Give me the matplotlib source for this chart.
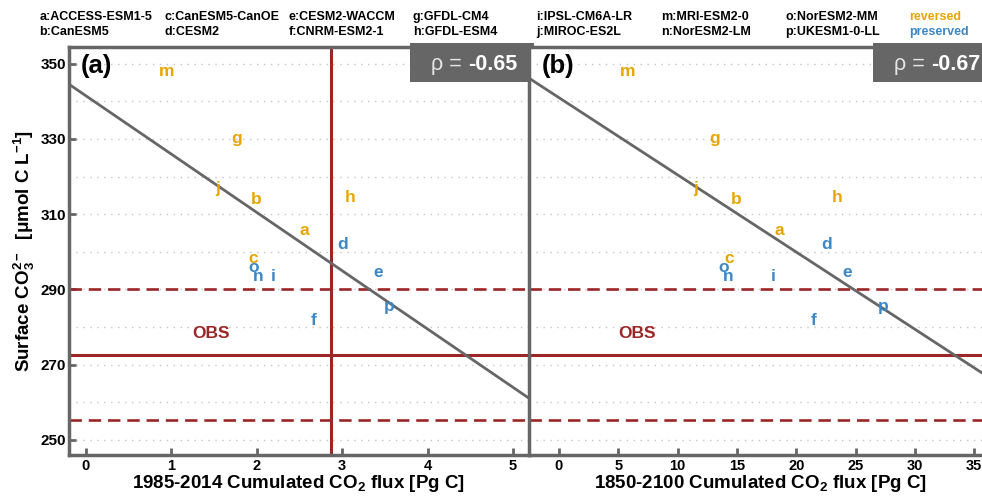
import numpy as np
import matplotlib
matplotlib.use("Agg")
import matplotlib.pyplot as plt
import matplotlib.transforms as mtransforms
from matplotlib.patches import Rectangle
from matplotlib.ticker import MultipleLocator, FixedLocator

plt.rcParams['font.family'] = ['Liberation Sans', 'DejaVu Sans']
plt.rcParams['font.weight'] = 'bold'
plt.rcParams['mathtext.fontset'] = 'custom'
plt.rcParams['mathtext.rm'] = 'Liberation Sans:bold'
plt.rcParams['mathtext.bf'] = 'Liberation Sans:bold'
plt.rcParams['mathtext.it'] = 'Liberation Sans:bold:italic'
plt.rcParams['mathtext.sf'] = 'Liberation Sans:bold'

# ---------------- data ----------------
letters = ['a', 'b', 'c', 'd', 'e', 'f', 'g', 'h', 'i', 'j', 'm', 'n', 'o', 'p']
models = ['ACCESS-ESM1-5', 'CanESM5', 'CanESM5-CanOE', 'CESM2', 'CESM2-WACCM',
          'CNRM-ESM2-1', 'GFDL-CM4', 'GFDL-ESM4', 'IPSL-CM6A-LR', 'MIROC-ES2L',
          'MRI-ESM2-0', 'NorESM2-LM', 'NorESM2-MM', 'UKESM1-0-LL']
group = ['reversed', 'reversed', 'reversed', 'preserved', 'preserved',
         'preserved', 'reversed', 'reversed', 'preserved', 'reversed',
         'reversed', 'preserved', 'preserved', 'preserved']
flux_1985_2014 = [2.56, 2.00, 1.96, 3.01, 3.42, 2.67, 1.77, 3.10, 2.20, 1.55,
                  0.95, 2.02, 1.97, 3.55]
flux_1850_2100 = [18.58, 14.98, 14.36, 22.57, 24.26, 21.44, 13.15, 23.47, 18.02,
                  11.55, 5.79, 14.28, 13.86, 27.35]
co3_surface = [305.7, 314.0, 298.2, 302.0, 294.6, 281.8, 330.0, 314.5, 293.5,
               316.7, 347.8, 293.5, 295.8, 285.5]
obs_co3 = 272.65
obs_co3_sd = 17.35
obs_flux_1985_2014 = 2.875
rho_values = ['-0.65', '-0.67']
panel_labels = ['(a)', '(b)']
xlabels = ['1985-2014 Cumulated CO$_2$ flux [Pg C]',
           '1850-2100 Cumulated CO$_2$ flux [Pg C]']
xticks_a = [0, 1, 2, 3, 4, 5]
xticks_b = [0, 5, 10, 15, 20, 25, 30, 35]
yticks = [250, 270, 290, 310, 330, 350]

# ---------------- style ----------------
C_REV = '#E6A500'
C_PRES = '#3C87C4'
C_RED = '#9C2526'
C_GRAY = '#666666'
C_GRID = '#c4c4c4'

W, H = 982, 497
fig = plt.figure(figsize=(W / 100, H / 100), dpi=100)

left_a, right_a, right_b = 68.5, 529.3, 992.0
top_px, bot_px = 46.7, 455.0
ax_a = fig.add_axes([left_a / W, 1 - bot_px / H, (right_a - left_a) / W, (bot_px - top_px) / H])
ax_b = fig.add_axes([right_a / W, 1 - bot_px / H, (right_b - right_a) / W, (bot_px - top_px) / H])

xlims = [(-0.2, 5.19), (-2.5, 36.5)]
xs = [flux_1985_2014, flux_1850_2100]
xtks = [xticks_a, xticks_b]

for k, ax in enumerate([ax_a, ax_b]):
    x = np.array(xs[k])
    y = np.array(co3_surface)
    ax.set_xlim(*xlims[k])
    ax.set_ylim(246.0, 354.5)

    # grid
    ax.yaxis.set_major_locator(FixedLocator(yticks))
    ax.yaxis.set_minor_locator(MultipleLocator(10))
    ax.yaxis.grid(True, which='both', linestyle=(0, (1, 4)), color=C_GRID, linewidth=1.0, zorder=0)
    ax.set_axisbelow(True)

    # spines
    for s in ['left', 'top', 'bottom']:
        ax.spines[s].set_color(C_GRAY)
        ax.spines[s].set_linewidth(2.5)
    ax.spines['right'].set_visible(False)

    ax.xaxis.set_major_locator(FixedLocator(xtks[k]))
    ax.tick_params(axis='x', direction='in', length=5, width=2.0, color=C_GRAY,
                   labelsize=10.5, pad=3, labelcolor='black')
    ax.tick_params(axis='y', which='minor', length=0)
    if k == 0:
        ax.tick_params(axis='y', which='major', direction='in', length=5, width=2.0,
                       color=C_GRAY, labelsize=11, pad=2, labelcolor='black')
    else:
        ax.tick_params(axis='y', which='major', length=0, labelleft=False)

    # obs lines
    ax.axhline(obs_co3, color=C_RED, lw=2.2, zorder=2)
    ax.axhline(obs_co3 + obs_co3_sd, color=C_RED, lw=1.9, dashes=(4.7, 2.6), zorder=2)
    ax.axhline(obs_co3 - obs_co3_sd, color=C_RED, lw=1.9, dashes=(4.7, 2.6), zorder=2)
    if k == 0:
        ax.axvline(obs_flux_1985_2014, color=C_RED, lw=2.2, zorder=2)

    # regression
    slope, icpt = np.polyfit(x, y, 1)
    xx = np.array(xlims[k])
    ax.plot(xx, icpt + slope * xx, color=C_GRAY, lw=2.0, zorder=3, solid_capstyle='butt')

    # model letters
    for lt, xi, yi, g in zip(letters, x, y, group):
        ax.text(xi, yi, lt, color=C_REV if g == 'reversed' else C_PRES,
                fontsize=12.5, fontweight='bold', ha='center', va='center', zorder=4)

    # OBS label
    trans = mtransforms.blended_transform_factory(ax.transAxes, ax.transData)
    ax.text([0.309, 0.232][k], obs_co3 + 5.6, 'OBS', transform=trans, color=C_RED,
            fontsize=12.5, fontweight='bold', ha='center', va='center', zorder=4)

    # rho box
    ax.add_patch(Rectangle((0.742, 0.914), 0.268, 0.096, transform=ax.transAxes,
                           facecolor=C_GRAY, edgecolor='none', zorder=5, clip_on=False))
    num = ax.text(0.974, 0.957, rho_values[k], transform=ax.transAxes, color='white',
                  fontsize=15.5, fontweight='bold', ha='right', va='center', zorder=6)
    ax.annotate('\u03c1 = ', xy=(0, 0.5), xycoords=num, color='#e6e6e6',
                fontsize=15.5, fontweight='normal', ha='right', va='center', zorder=6)

    # panel label
    ax.text(0.027, 0.953, panel_labels[k], transform=ax.transAxes, fontsize=18.5,
            fontweight='bold', ha='left', va='center', zorder=6)

    ax.set_xlabel(xlabels[k], fontsize=13.5, fontweight='bold', labelpad=0)

ax_a.set_ylabel('Surface CO$_3^{2-}$  [$\\mathregular{\\mu}$mol C L$^{-1}$]', fontsize=13.5,
                fontweight='bold')
ax_a.yaxis.set_label_coords((37 - left_a) / (right_a - left_a), 0.5)

# legend text at top
col_x = [39.3, 164.3, 288.3, 412.7, 536, 661, 785]
row_y = [17.3, 32.3]
for i, (lt, mdl) in enumerate(zip(letters, models)):
    c, r = divmod(i, 2)
    fig.text(col_x[c] / W, 1 - row_y[r] / H, f'{lt}:{mdl}', fontsize=9, fontweight='bold',
             ha='left', va='center', color='black')
fig.text(909.3 / W, 1 - row_y[0] / H, 'reversed', fontsize=9, fontweight='bold',
         ha='left', va='center', color=C_REV)
fig.text(909.3 / W, 1 - row_y[1] / H, 'preserved', fontsize=9, fontweight='bold',
         ha='left', va='center', color=C_PRES)

fig.savefig('out.png', dpi=100)
